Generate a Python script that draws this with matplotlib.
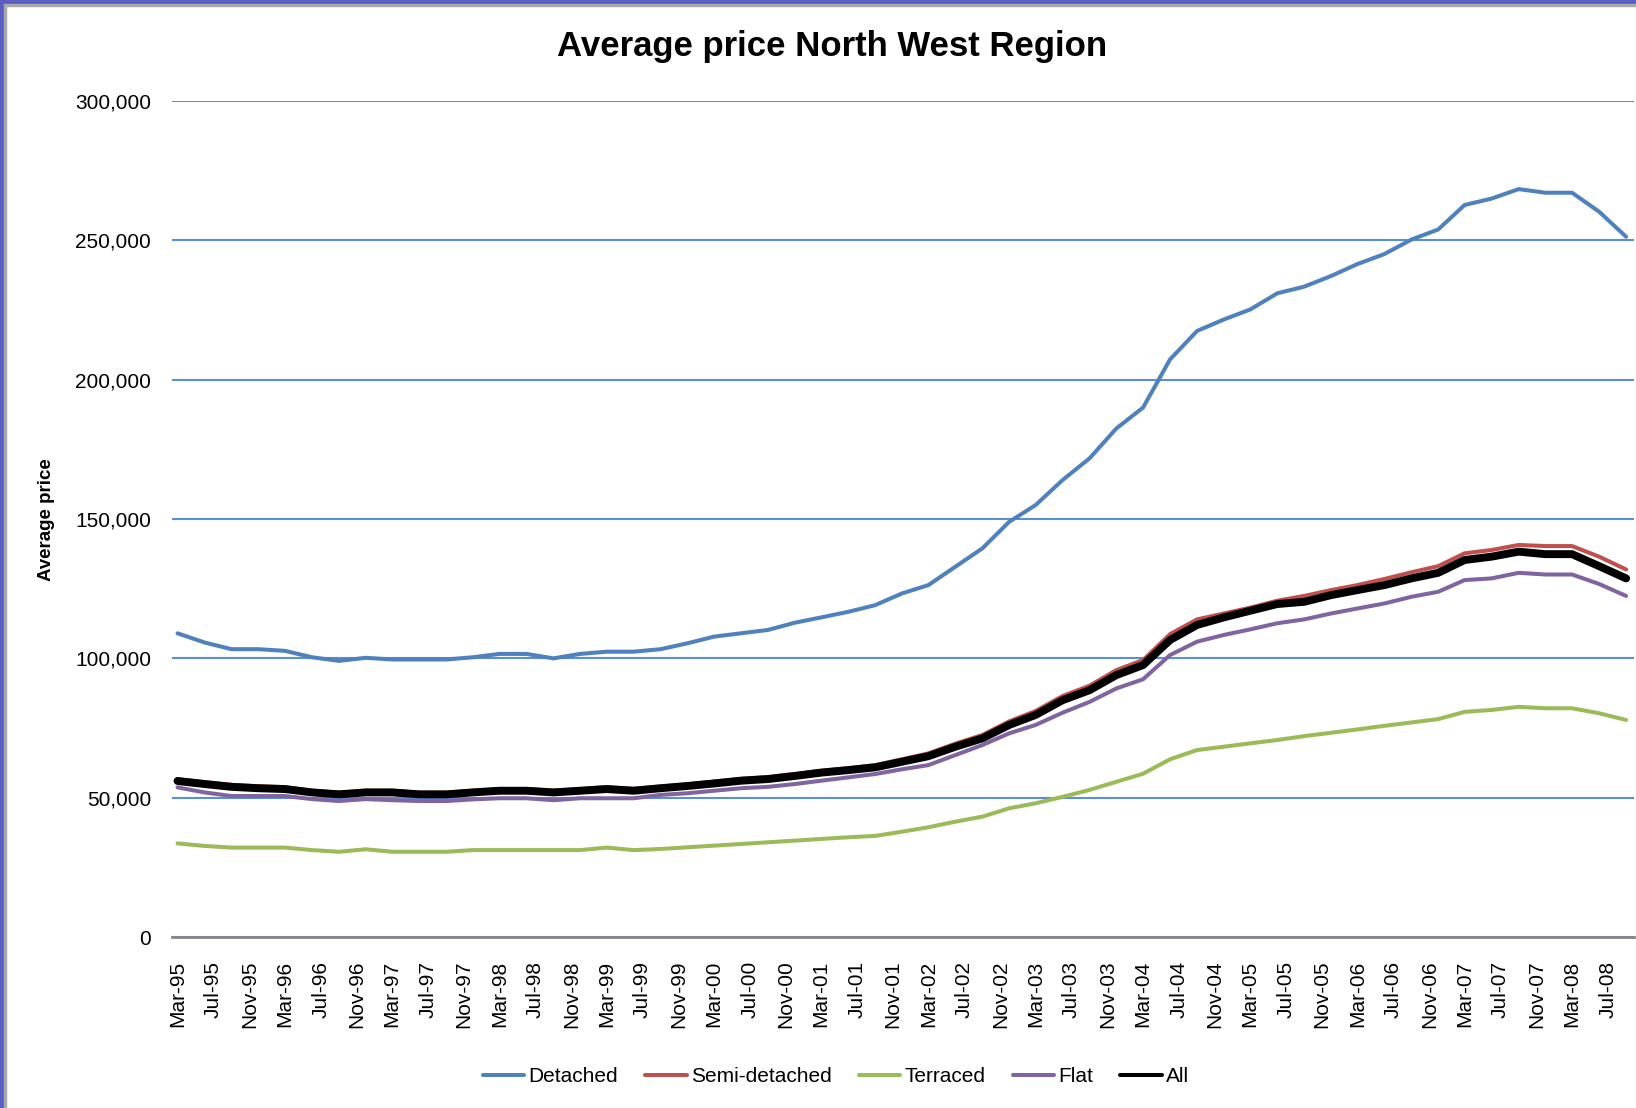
import pandas as pd
import matplotlib
matplotlib.use("Agg")
import matplotlib.pyplot as plt
from matplotlib.patches import Rectangle
from matplotlib.ticker import FuncFormatter

# quarterly averages, thousands of pounds, Mar-95 .. Sep-08
quarters = pd.date_range("1995-03-01", periods=55, freq="3MS")

detached = [109.0, 105.7, 103.3, 103.3, 102.7, 100.4, 99.1, 100.2, 99.6, 99.6,
            99.6, 100.4, 101.6, 101.6, 100.0, 101.6, 102.4, 102.4, 103.3,
            105.4, 107.8, 109.0, 110.2, 112.8, 114.7, 116.7, 119.1, 123.3, 126.3,
            132.9, 139.5, 149.0, 155.0, 164.0, 171.8, 182.5,
            190.0, 207.3, 217.5, 221.6, 225.2, 231.0, 233.4, 237.2, 241.5, 245.1,
            250.3, 253.9, 262.7, 265.0, 268.4, 267.1, 267.1, 260.3, 251.3]
semi = [56.6, 55.6, 54.6, 54.1, 53.8, 52.5, 51.8, 52.5, 52.5, 51.8,
        51.8, 52.5, 53.1, 53.1, 52.5, 53.1, 53.8, 53.2, 54.0,
        54.8, 55.8, 56.8, 57.4, 58.5, 59.7, 60.6, 61.7, 63.8, 65.9,
        69.4, 72.5, 77.4, 81.1, 86.5, 90.2, 95.8,
        99.4, 108.7, 114.0, 116.1, 118.2, 120.7, 122.4, 124.5, 126.3, 128.5,
        130.9, 133.1, 137.7, 138.9, 140.7, 140.3, 140.3, 136.5, 131.9]
terraced = [33.6, 32.7, 32.1, 32.1, 32.1, 31.2, 30.6, 31.5, 30.6, 30.6,
            30.6, 31.2, 31.2, 31.2, 31.2, 31.2, 32.1, 31.2, 31.6,
            32.2, 32.8, 33.4, 34.0, 34.6, 35.2, 35.8, 36.3, 37.8, 39.4,
            41.4, 43.2, 46.2, 48.0, 50.3, 52.8, 55.7,
            58.6, 63.8, 67.1, 68.3, 69.5, 70.7, 72.1, 73.3, 74.5, 75.8,
            77.0, 78.2, 80.8, 81.5, 82.6, 82.1, 82.1, 80.3, 77.9]
flat = [53.7, 51.9, 50.6, 50.6, 50.6, 49.5, 48.8, 49.5, 49.1, 48.8,
        48.8, 49.4, 49.8, 49.8, 49.1, 49.8, 49.8, 49.8, 51.0,
        51.6, 52.5, 53.4, 53.9, 54.9, 56.1, 57.3, 58.5, 60.2, 61.7,
        65.3, 68.9, 73.1, 76.1, 80.5, 84.4, 89.2,
        92.5, 101.2, 106.0, 108.4, 110.4, 112.6, 114.0, 116.1, 117.9, 119.7,
        122.1, 123.9, 128.1, 128.7, 130.7, 130.1, 130.1, 126.7, 122.4]
all_types = [56.0, 54.9, 53.9, 53.4, 53.1, 51.9, 51.2, 51.9, 51.9, 51.2,
             51.2, 51.9, 52.5, 52.5, 51.9, 52.5, 53.1, 52.5, 53.4,
             54.2, 55.1, 56.1, 56.7, 57.8, 59.0, 59.9, 60.9, 62.9, 64.9,
             68.3, 71.3, 76.1, 79.7, 85.0, 88.6, 94.0,
             97.6, 106.6, 112.0, 114.7, 117.1, 119.5, 120.3, 122.7, 124.5, 126.3,
             128.7, 130.7, 135.3, 136.5, 138.3, 137.4, 137.4, 133.1, 128.7]

tick_labels = ["Mar-95", "Jul-95", "Nov-95", "Mar-96", "Jul-96", "Nov-96",
               "Mar-97", "Jul-97", "Nov-97", "Mar-98", "Jul-98", "Nov-98",
               "Mar-99", "Jul-99", "Nov-99", "Mar-00", "Jul-00", "Nov-00",
               "Mar-01", "Jul-01", "Nov-01", "Mar-02", "Jul-02", "Nov-02",
               "Mar-03", "Jul-03", "Nov-03", "Mar-04", "Jul-04", "Nov-04",
               "Mar-05", "Jul-05", "Nov-05", "Mar-06", "Jul-06", "Nov-06",
               "Mar-07", "Jul-07", "Nov-07", "Mar-08", "Jul-08"]
y_ticks = [0, 50000, 100000, 150000, 200000, 250000, 300000]

series = [
    ("Detached", detached, "#4F81BD", 2.9),
    ("Semi-detached", semi, "#C0504D", 2.9),
    ("Terraced", terraced, "#9BBB59", 2.9),
    ("Flat", flat, "#8064A2", 2.9),
    ("All", all_types, "black", 5.7),
]

plt.rcParams['font.family'] = ['Liberation Sans', 'DejaVu Sans']

fig = plt.figure(figsize=(16.36, 11.08), dpi=100)
ax = fig.add_axes([0.1051, 0.1543, 0.8937, 0.7545])

for name, vals, col, lw in series:
    ax.plot(quarters, [v * 1000 for v in vals], color=col, lw=lw, label=name,
            solid_joinstyle='miter', solid_capstyle='round')

ax.set_ylim(0, 300000)
ax.set_yticks(y_ticks)
ax.yaxis.set_major_formatter(FuncFormatter(lambda v, p: f"{int(v):,}"))
ax.set_xlim(pd.Timestamp("1995-02-10"), pd.Timestamp("2008-09-28"))
tick_pos = pd.to_datetime(tick_labels, format="%b-%y")
ax.set_xticks(tick_pos)
ax.set_xticklabels(tick_labels, rotation=90, ha='center', va='top')

ax.grid(True, axis='y', color='#5B8ED6', lw=1.5)
ax.set_axisbelow(True)
for s in ['left', 'right', 'top']:
    ax.spines[s].set_visible(False)
ax.spines['bottom'].set_color('#868686')
ax.spines['bottom'].set_linewidth(2)
ax.tick_params(axis='both', length=0, labelsize=15)
ax.tick_params(axis='y', pad=15)
ax.tick_params(axis='x', pad=17)

fig.text(0.5086, 0.9576, "Average price North West Region", ha='center', va='center',
         fontsize=25, fontweight='bold')
fig.text(0.0287, 0.5307, "Average price", rotation=90, ha='center', va='center',
         fontsize=13.5, fontweight='bold')

leg = fig.legend(loc='center', bbox_to_anchor=(0.511, 0.028), ncol=5, frameon=False,
                 fontsize=15, handlelength=2.0, handletextpad=0.2, columnspacing=1.3)
for line in leg.get_lines():
    line.set_linewidth(2.9)

# slide frame on the left and top edges
fig.patches.append(Rectangle((0, 0), 4 / 1636, 1, transform=fig.transFigure,
                             color='#5A5EC2', zorder=5))
fig.patches.append(Rectangle((0, 1 - 4 / 1108), 1, 4 / 1108, transform=fig.transFigure,
                             color='#5A5EC2', zorder=5))
fig.patches.append(Rectangle((4 / 1636, 0), 1.5 / 1636, 1 - 4 / 1108, transform=fig.transFigure,
                             color='#A8A8A8', zorder=5))
fig.patches.append(Rectangle((4 / 1636, 1 - 5.5 / 1108), 1, 1.5 / 1108, transform=fig.transFigure,
                             color='#A8A8A8', zorder=5))

fig.savefig("out.png", dpi=100)
